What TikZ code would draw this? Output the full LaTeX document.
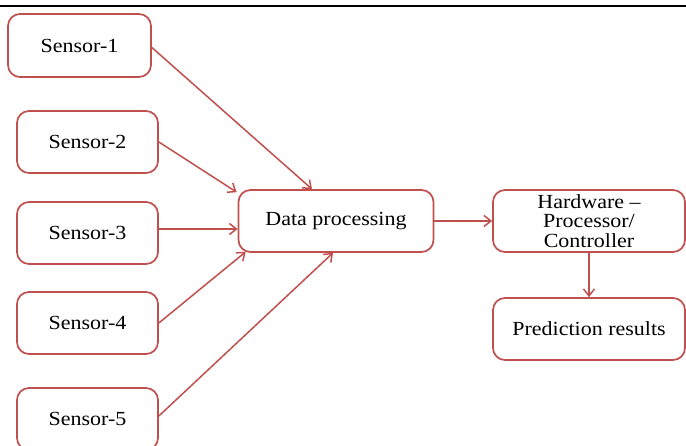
\documentclass[tikz,border=0pt]{standalone}
\usepackage{fontspec}
\usepackage{graphicx}
\setmainfont{Liberation Serif}
\usetikzlibrary{arrows.meta}
\definecolor{boxred}{RGB}{192,80,77}
% text set slightly wide, as in the figure
\newcommand{\widetext}[1]{\scalebox{1.1}[1]{#1}}
\tikzset{
  block/.style={draw=boxred, line width=1.7pt, rounded corners=12pt, fill=white,
    minimum width=141pt, minimum height=62pt, inner sep=1pt, align=center,
    font=\fontsize{20}{19.6}\selectfont},
  link/.style={draw=boxred, line width=1.5pt, -{Straight Barb[length=7pt,width=11pt]}}
}
\begin{document}
\begin{tikzpicture}[x=1pt, y=-1pt]
  \useasboundingbox (0,0) rectangle (686,446);
  % header rule
  \draw[line width=1.4pt] (0,6) -- (686,6);

  % sensors
  \node[block, minimum width=143pt, minimum height=63pt] (s1) at (79.5,45.5) {\widetext{Sensor-1}};
  \node[block] (s2) at (87.5,142) {\widetext{Sensor-2}};
  \node[block] (s3) at (87.5,233) {\widetext{Sensor-3}};
  \node[block] (s4) at (87.5,323) {\widetext{Sensor-4}};
  \node[block] (s5) at (87.5,419) {\widetext{Sensor-5}};

  % processing chain
  \node[block, minimum width=195pt] (dp) at (336,221) {\widetext{Data processing}};
  \node[block, minimum width=192pt] (hw) at (589,221)
    {\widetext{Hardware --}\\\widetext{Processor/}\\\widetext{Controller}};
  \node[block, minimum width=192pt] (pr) at (589,329) {\widetext{Prediction results}};

  % connectors
  \draw[link] ([yshift=-2pt]s1.east) -- ([xshift=-24pt]dp.north);
  \draw[link] (s2.east) -- ([xshift=-1pt,yshift=-3pt]dp.north west);
  \draw[link] ([yshift=4pt]s3.east) -- ([yshift=4pt]s3.east -| dp.west);
  \draw[link] (s4.east) -- ([xshift=8pt,yshift=1pt]dp.south west);
  \draw[link] ([yshift=3pt]s5.east) -- ([xshift=-3pt]dp.south);
  \draw[link] (dp.east) -- (hw.west);
  \draw[link] (hw.south) -- (pr.north);
\end{tikzpicture}
\end{document}
